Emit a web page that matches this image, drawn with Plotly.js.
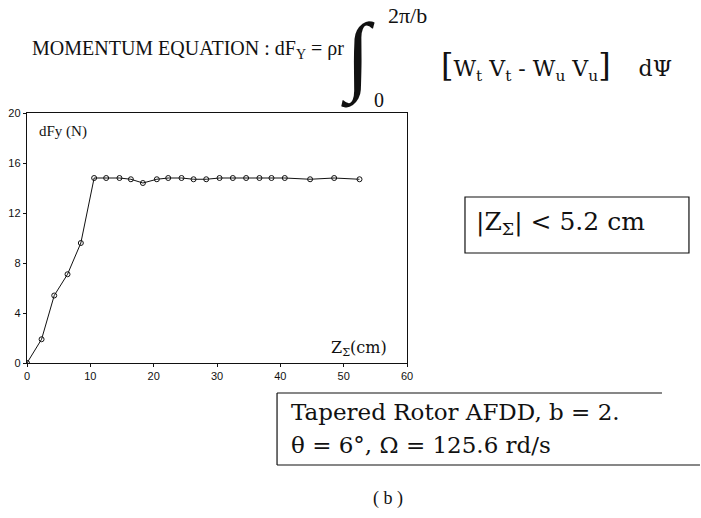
<!DOCTYPE html>
<html>
<head>
<meta charset="utf-8">
<script src="https://cdn.plot.ly/plotly-3.0.1.min.js"></script>
<style>
  html, body { margin: 0; padding: 0; background: white; }
  #chart { width: 701px; height: 518px; }
</style>
</head>
<body>
<div id="chart"></div>
<script>
// dF_Y versus Z_Σ (b)
const zCm = [0, 2.3, 4.3, 6.4, 8.5, 10.6, 12.5, 14.6, 16.4, 18.3, 20.5, 22.3, 24.4,
             26.3, 28.3, 30.4, 32.5, 34.6, 36.7, 38.6, 40.7, 44.7, 48.5, 52.5];
const dFy = [0, 1.9, 5.4, 7.1, 9.6, 14.8, 14.8, 14.8, 14.7, 14.4, 14.7, 14.8, 14.8,
             14.7, 14.7, 14.8, 14.8, 14.8, 14.8, 14.8, 14.8, 14.7, 14.8, 14.7];

const xTicks = [0, 10, 20, 30, 40, 50, 60];
const yTicks = [0, 4, 8, 12, 16, 20];

const SERIF = "'Liberation Serif', 'Times New Roman', serif";
const WIDE_SERIF = "'DejaVu Serif', serif";   // scan is stretched sideways
const SANS = "'Liberation Sans', Arial, sans-serif";

const trace = {
  x: zCm, y: dFy,
  type: "scatter", mode: "lines+markers",
  line: { color: "#111", width: 1 },
  marker: { symbol: "circle-open", size: 5, color: "#111", line: { width: 1 } },
  hoverinfo: "skip",
  showlegend: false,
};

const axisBase = {
  showline: true, mirror: true, linecolor: "#111", linewidth: 1.2,
  showgrid: false, zeroline: false,
  ticks: "outside", ticklen: 3, tickcolor: "#111",
  tickfont: { family: SANS, size: 11, color: "#111" },
  tickmode: "array", fixedrange: true,
};

// helper for text annotations placed on the paper
function note(text, x, y, size, opts) {
  return Object.assign({
    text, x, y, xref: "paper", yref: "paper", showarrow: false,
    font: { family: SERIF, size, color: "#111" },
    xanchor: "left", yanchor: "middle",
  }, opts || {});
}
function seg(x0, y0, x1, y1) {
  return { type: "line", xref: "paper", yref: "paper", x0, y0, x1, y1,
           line: { color: "#111", width: 1.2 } };
}

const big = (s) => "<span style='font-size:32px'>" + s + "</span>";
const wide = (size) => ({ family: WIDE_SERIF, size, color: "#111" });

const layout = {
  width: 701, height: 518,
  margin: { l: 27, r: 294, t: 113, b: 155 },
  paper_bgcolor: "white", plot_bgcolor: "white",
  xaxis: { ...axisBase, range: [0, 60], tickvals: xTicks },
  yaxis: { ...axisBase, range: [0, 20], tickvals: yTicks },
  shapes: [
    { type: "rect", xref: "paper", yref: "paper", x0: 1.1526, x1: 1.742, y0: 0.44, y1: 0.664,
      line: { color: "#111", width: 1.2 } },
    // open-ended box under the axis
    seg(0.658, -0.12, 1.671, -0.12),
    seg(0.658, -0.408, 1.771, -0.408),
    seg(0.658, -0.12, 0.658, -0.408),
  ],
  annotations: [
    note("MOMENTUM EQUATION : dF<sub>Y</sub> = ρr", 0.008, 1.255, 20),
    note("∫", 0.87, 1.225, 88, { xanchor: "center" }),
    note("2π/b", 1.0, 1.39, 22, { xanchor: "center" }),
    note("0", 0.925, 1.05, 20, { xanchor: "center" }),
    note(big("[") + "W<sub>t</sub>&nbsp;V<sub>t</sub>&nbsp;-&nbsp;W<sub>u</sub>&nbsp;V<sub>u</sub>" + big("]") + "&nbsp;&nbsp;&nbsp;&nbsp;dΨ",
         1.085, 1.19, 22, { font: wide(22) }),
    note("dFy (N)", 0.027, 0.925, 15),
    note("Z<sub>Σ</sub>(cm)", 0.795, 0.06, 16, { font: wide(16) }),
    note("|Z<sub>Σ</sub>| < 5.2 cm", 1.405, 0.56, 25, { font: wide(25), xanchor: "center" }),
    note("Tapered Rotor AFDD, b = 2.", 0.69, -0.196, 23, { font: wide(23) }),
    note("θ = 6°, Ω = 125.6 rd/s", 0.69, -0.328, 23, { font: wide(23) }),
    note("( b )", 0.95, -0.54, 18, { xanchor: "center" }),
  ],
};

Plotly.newPlot("chart", [trace], layout, { displayModeBar: false, staticPlot: true });
</script>
</body>
</html>
